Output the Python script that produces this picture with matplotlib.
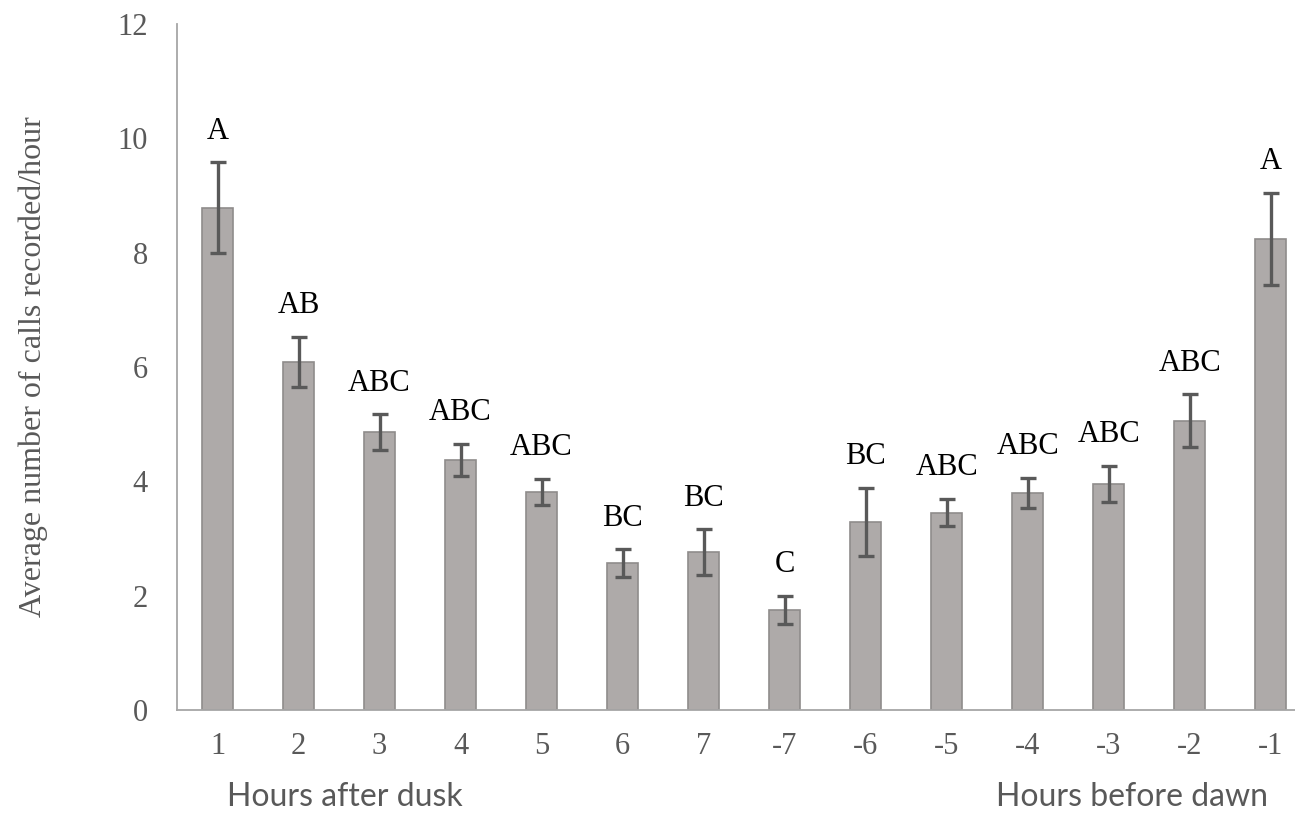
import numpy as np
import matplotlib.pyplot as plt

# mean calls per hour, standard error and Tukey grouping letters
hours = ["1", "2", "3", "4", "5", "6", "7", "-7", "-6", "-5", "-4", "-3", "-2", "-1"]
mean_calls = [8.79, 6.09, 4.86, 4.37, 3.81, 2.57, 2.76, 1.75, 3.29, 3.45, 3.80, 3.95, 5.06, 8.24]
std_err = [0.79, 0.44, 0.31, 0.28, 0.23, 0.24, 0.40, 0.25, 0.60, 0.24, 0.26, 0.32, 0.46, 0.81]
groups = ["A", "AB", "ABC", "ABC", "ABC", "BC", "BC", "C", "BC", "ABC", "ABC", "ABC", "ABC", "A"]

serif = ["Liberation Serif", "DejaVu Serif"]
sans = ["Lato", "DejaVu Sans"]
grey = "#595959"

fig = plt.figure(figsize=(12.95, 8.17), dpi=100)
ax = fig.add_axes([0.1367, 0.131, 0.8633, 0.8396])

x = np.arange(len(hours))
ax.bar(x, mean_calls, width=0.38, color="#aeaaa9", edgecolor="#8f8c8b", linewidth=1.2, zorder=2)
ax.errorbar(x, mean_calls, yerr=std_err, fmt="none", ecolor=grey, elinewidth=2.4,
            capsize=5.5, capthick=2.4, zorder=3)

for xi, m, e, g in zip(x, mean_calls, std_err, groups):
    ax.annotate(g, (xi, m + e), xytext=(0, 12), textcoords="offset points",
                ha="center", va="bottom", fontsize=22, family=serif, color="black")

ax.set_xlim(-0.5, 13.3)
ax.set_ylim(0, 12)
ax.set_yticks(range(0, 13, 2))
ax.set_xticks(x)
ax.set_xticklabels(hours)
ax.tick_params(length=0, labelsize=22, labelcolor=grey)
ax.tick_params(axis="x", pad=16)
ax.tick_params(axis="y", pad=21)
for lbl in ax.get_xticklabels() + ax.get_yticklabels():
    lbl.set_family(serif)

for side in ["top", "right"]:
    ax.spines[side].set_visible(False)
for side in ["left", "bottom"]:
    ax.spines[side].set_color("#a6a6a6")
    ax.spines[side].set_linewidth(1.3)

ax.set_ylabel("Average number of calls recorded/hour", fontsize=23, family=serif,
              color=grey, labelpad=50)

fig.text(0.175, 0.006, "Hours after dusk", fontsize=23, family=sans,
         color=grey, ha="left", va="bottom")
fig.text(0.769, 0.006, "Hours before dawn", fontsize=23, family=sans,
         color=grey, ha="left", va="bottom")

fig.savefig("out.png", dpi=100)
